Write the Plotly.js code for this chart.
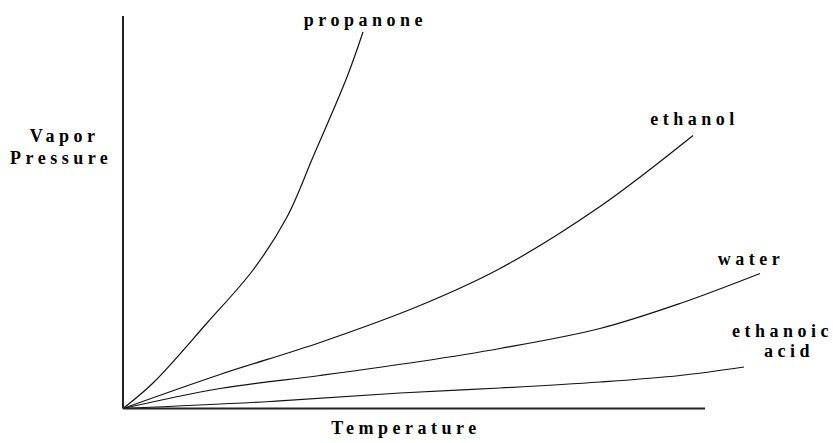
<!DOCTYPE html>
<html>
<head>
<meta charset="utf-8">
<script src="https://cdn.plot.ly/plotly-3.0.1.min.js"></script>
<style>
  html, body { margin: 0; padding: 0; background: #fff; }
  #chart { width: 833px; height: 443px; }
</style>
</head>
<body>
<div id="chart"></div>
<script>
// Temperature (arbitrary units) and vapor pressure (arbitrary units)
const propanoneT = [0, 30, 84, 130, 164, 190, 224, 240];
const propanoneP = [0, 25.5, 85.5, 138.5, 191.5, 251.5, 331.5, 376.5];

const ethanolT = [0, 97, 197, 297, 377, 477, 570];
const ethanolP = [0, 34, 66, 103, 140, 202, 273];

const waterT = [0, 97, 197, 297, 377, 477, 557, 637];
const waterP = [0, 20, 33, 47, 60, 80, 105, 135];

const aceticT = [0, 147, 277, 377, 477, 557, 621];
const aceticP = [0, 7, 15.5, 20.5, 26.5, 33, 41.5];

const seriesNames = ["propanone", "ethanol", "water", "ethanoic acid"];
const xTitle = "Temperature";
const yTitleLines = ["Vapor", "Pressure"];

const lineStyle = {color: "#111", width: 1.2, shape: "spline", smoothing: 1};
function tr(x, y, name) {
  return {x: x, y: y, name: name, type: "scatter", mode: "lines", line: lineStyle, hoverinfo: "skip"};
}
const data = [
  tr(propanoneT, propanoneP, seriesNames[0]),
  tr(ethanolT, ethanolP, seriesNames[1]),
  tr(waterT, waterP, seriesNames[2]),
  tr(aceticT, aceticP, seriesNames[3])
];

function lab(text, x, y) {
  return {text: text, x: x, y: y, xref: "x", yref: "y", showarrow: false,
          xanchor: "center", yanchor: "middle",
          font: {family: "Liberation Serif", size: 18, color: "#000", weight: 700}};
}

const layout = {
  width: 833, height: 443,
  margin: {l: 0, r: 0, t: 0, b: 0, pad: 0},
  paper_bgcolor: "#fff", plot_bgcolor: "#fff",
  showlegend: false,
  xaxis: {range: [-123, 710], visible: false, fixedrange: true},
  yaxis: {range: [-34.5, 408.5], visible: false, fixedrange: true},
  shapes: [
    {type: "line", xref: "x", yref: "y", x0: 0, x1: 0, y0: 0, y1: 392.5, line: {color: "#222", width: 2}},
    {type: "line", xref: "x", yref: "y", x0: 0, x1: 582, y0: 0, y1: 0, line: {color: "#222", width: 2}}
  ],
  annotations: [
    lab(seriesNames[0], 242, 388.5),
    lab(seriesNames[1], 571, 289.5),
    lab(seriesNames[2], 628, 149.5),
    lab("ethanoic", 659, 77.5),
    lab("acid", 666, 57.5),
    lab(yTitleLines[0], -58.5, 272.5),
    lab(yTitleLines[1], -62.5, 250.5),
    lab(xTitle, 283, -19.5)
  ]
};

Plotly.newPlot("chart", data, layout, {displayModeBar: false, staticPlot: true}).then(function () {
  document.querySelectorAll(".annotation-text").forEach(function (el) {
    el.style.letterSpacing = "4.5px";
  });
});
</script>
</body>
</html>
